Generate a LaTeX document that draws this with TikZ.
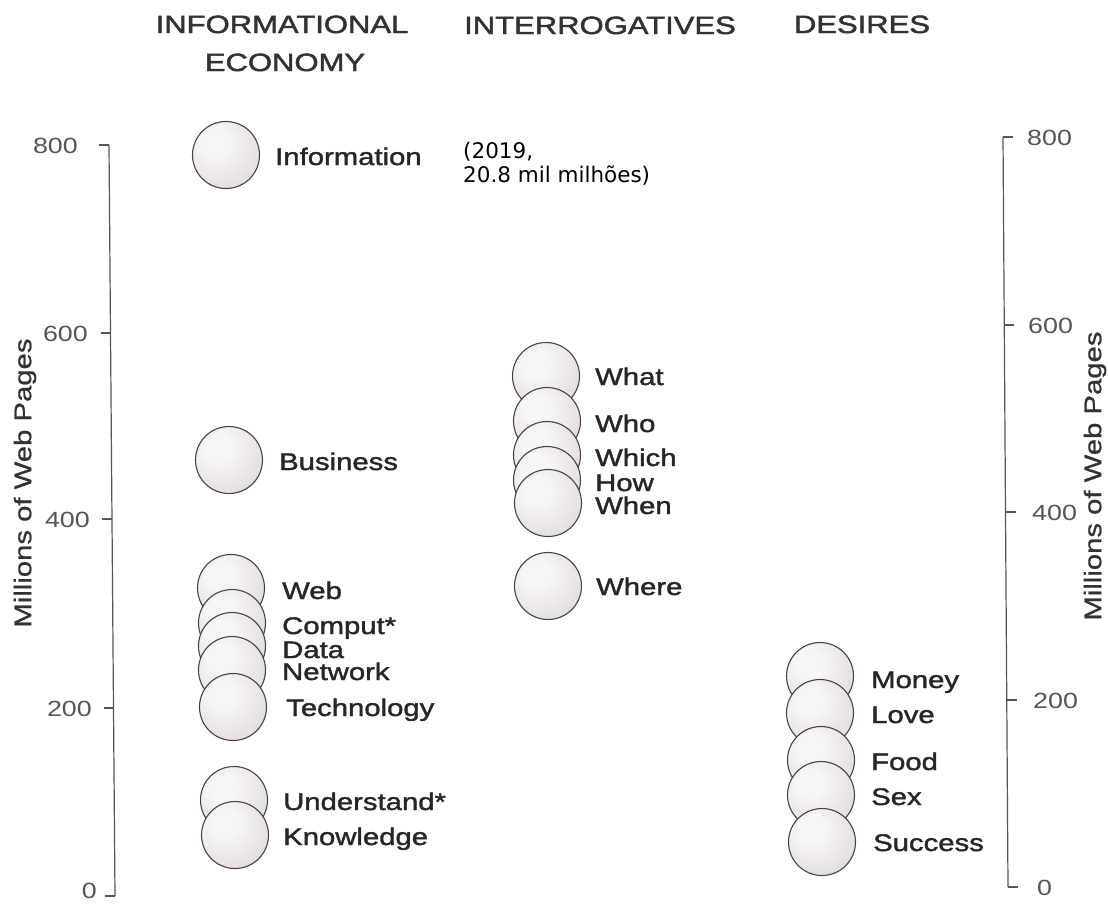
\documentclass[tikz,border=0pt]{standalone}
\usepackage{fontspec}
\setmainfont{Liberation Sans}[FakeStretch=1.22]
\newfontfamily\lblfont{Liberation Sans}[FakeStretch=1.22, FakeBold=1.6]
\newfontfamily\headfont{Liberation Sans}[FakeStretch=1.24, FakeBold=1.9]
\newfontfamily\axfont{Liberation Sans}[FakeStretch=1.22, FakeBold=0.8]
\newfontfamily\notefont{DejaVu Sans}
\definecolor{sphlight}{RGB}{247,245,245}
\definecolor{sphmid}{RGB}{228,221,222}
\definecolor{sphdark}{RGB}{188,179,181}
\definecolor{sphedge}{RGB}{70,67,67}
\definecolor{labelcol}{RGB}{38,38,38}
\definecolor{headcol}{RGB}{50,50,50}
\definecolor{axiscol}{RGB}{85,85,85}
\pgfdeclareradialshading{sphereshade}{\pgfpoint{-9bp}{10bp}}{color(0bp)=(sphlight); color(10bp)=(sphlight); color(34bp)=(sphmid); color(60bp)=(sphdark); color(100bp)=(sphdark)}
\tikzset{
  sphere/.style={circle, draw=sphedge, line width=1.1pt, minimum size=67pt, inner sep=0pt, shading=sphereshade},
  lbl/.style={anchor=base west, inner sep=0pt, text=labelcol, font=\lblfont\fontsize{24}{28}\selectfont},
  head/.style={anchor=base, inner sep=0pt, text=headcol, font=\headfont\fontsize{25}{30}\selectfont},
  ticklbl/.style={inner sep=0pt, text=axiscol, font=\fontsize{22}{26}\selectfont},
  axislbl/.style={rotate=90, inner sep=0pt, text=headcol, font=\axfont\fontsize{24}{28}\selectfont},
  axisline/.style={draw=axiscol, line width=1.2pt}
}
\begin{document}
\begin{tikzpicture}[x=1pt,y=-1pt]
\useasboundingbox (0,0) rectangle (1108,903);
% headings
\node[head] (h1a) at (282,33) {INFORMATIONAL};
\node[head] (h1b) at (285,71) {ECONOMY};
\node[head] (h2) at (600,34) {INTERROGATIVES};
\node[head] (h3) at (862,33) {DESIRES};
% note
\node[anchor=base west, inner sep=0pt, font=\notefont\fontsize{21.5}{24}\selectfont] (n1) at (463,158) {(2019,};
\node[anchor=base west, inner sep=0pt, font=\notefont\fontsize{21.5}{24}\selectfont] (n2) at (463,182) {20.8 mil milhões)};
% left axis
\coordinate (la0) at (115,896);
\coordinate (la8) at (109,145);
\draw[axisline] (la8) -- (la0);
\draw[axisline] (109,145) -- (99,145);
\draw[axisline] (110.5,333) -- (100.5,333);
\draw[axisline] (112,519) -- (102,519);
\draw[axisline] (113.5,708) -- (103.5,708);
\draw[axisline] (115,896) -- (105,896);
\node[ticklbl, anchor=base east] (l800) at (78,153) {800};
\node[ticklbl, anchor=base east] (l600) at (88,341) {600};
\node[ticklbl, anchor=base east] (l400) at (90,527) {400};
\node[ticklbl, anchor=base east] (l200) at (92,716) {200};
\node[ticklbl, anchor=base east] (l0) at (97,898) {0};
\node[axislbl] (lax) at (25,483) {Millions of Web Pages};
% right axis
\coordinate (ra8) at (1003,137);
\coordinate (ra0) at (1008,887);
\draw[axisline] (ra8) -- (ra0);
\draw[axisline] (1003,137) -- (1013,137);
\draw[axisline] (1004.2,325) -- (1014.2,325);
\draw[axisline] (1005.5,512) -- (1015.5,512);
\draw[axisline] (1006.8,700) -- (1016.8,700);
\draw[axisline] (1008,887) -- (1018,887);
\node[ticklbl, anchor=base west] (r800) at (1027,145) {800};
\node[ticklbl, anchor=base west] (r600) at (1028,333) {600};
\node[ticklbl, anchor=base west] (r400) at (1032,520) {400};
\node[ticklbl, anchor=base west] (r200) at (1033,708) {200};
\node[ticklbl, anchor=base west] (r0) at (1037,895) {0};
\node[axislbl] (rax) at (1095,476) {Millions of Web Pages};
% left column
\node[sphere] (info) at (226,155) {};
\node[sphere] (bus) at (229,460) {};
\node[sphere] (web) at (231,588) {};
\node[sphere] (comp) at (232,623) {};
\node[sphere] (data) at (232,646) {};
\node[sphere] (net) at (232,670) {};
\node[sphere] (tech) at (233,707) {};
\node[sphere] (und) at (234,800) {};
\node[sphere] (know) at (235,835) {};
\node[lbl] (tinfo) at (275,165) {Information};
\node[lbl] (tbus) at (279,470) {Business};
\node[lbl] (tweb) at (282,599) {Web};
\node[lbl] (tcomp) at (282,634) {Comput*};
\node[lbl] (tdata) at (282,658) {Data};
\node[lbl] (tnet) at (282,680) {Network};
\node[lbl] (ttech) at (286,716) {Technology};
\node[lbl] (tund) at (283,810) {Understand*};
\node[lbl] (tknow) at (283,845) {Knowledge};
% middle column
\node[sphere] (what) at (546,376) {};
\node[sphere] (who) at (547,421) {};
\node[sphere] (which) at (547,455) {};
\node[sphere] (how) at (547,480) {};
\node[sphere] (when) at (548,503) {};
\node[sphere] (where) at (548,586) {};
\node[lbl] (twhat) at (595,385) {What};
\node[lbl] (twho) at (595,432) {Who};
\node[lbl] (twhich) at (595,466) {Which};
\node[lbl] (thow) at (595,491) {How};
\node[lbl] (twhen) at (595,514) {When};
\node[lbl] (twhere) at (596,595) {Where};
% right column
\node[sphere] (money) at (820,676) {};
\node[sphere] (love) at (820,713) {};
\node[sphere] (food) at (821,760) {};
\node[sphere] (sex) at (821,795) {};
\node[sphere] (succ) at (822,842) {};
\node[lbl] (tmoney) at (871,688) {Money};
\node[lbl] (tlove) at (871,723) {Love};
\node[lbl] (tfood) at (871,770) {Food};
\node[lbl] (tsex) at (871,805) {Sex};
\node[lbl] (tsucc) at (873,851) {Success};
\end{tikzpicture}
\end{document}
